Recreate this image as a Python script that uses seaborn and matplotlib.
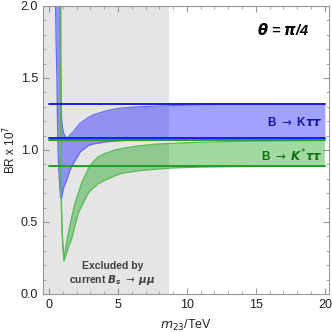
import numpy as np
import pandas as pd
import matplotlib
matplotlib.use("Agg")
import matplotlib.pyplot as plt
from matplotlib.ticker import MultipleLocator
import seaborn as sns

# ---- data ----
x_blue = [0.45, 0.48, 0.52, 0.58, 0.62, 0.66, 0.72, 0.80, 0.84, 0.86, 0.88, 0.92, 1.0, 1.09,
          1.28, 1.5, 1.8, 2.25, 2.5, 2.85, 3.2, 4.2, 5.1, 6.5, 8.0, 10, 13, 16, 20]
blue_upper = [2.6, 2.6, 2.6, 2.6, 2.6, 2.6, 2.6, 2.6, 2.6, 1.6, 1.35, 1.2, 1.14, 1.11,
              1.08, 1.10, 1.13, 1.185, 1.20, 1.225, 1.243, 1.273, 1.29, 1.30, 1.306, 1.311, 1.315, 1.317, 1.319]
blue_lower = [2.6, 2.0, 1.75, 1.5, 1.2, 1.0, 0.85, 0.72, 0.68, 0.667, 0.665, 0.67, 0.71, 0.745,
              0.79, 0.855, 0.91, 0.985, 1.005, 1.03, 1.042, 1.057, 1.064, 1.07, 1.074, 1.077, 1.079, 1.08, 1.081]

x_green = [0.78, 0.80, 0.82, 0.84, 0.87, 0.90, 0.95, 1.02, 1.09, 1.2, 1.3, 1.4, 1.52, 1.64, 1.88,
           2.13, 2.37, 2.85, 3.09, 3.57, 4.06, 4.78, 5.27, 6.47, 7.68, 8.9, 11, 14, 17, 20]
green_upper = [2.6, 2.1, 1.7, 1.4, 1.0, 0.65, 0.45, 0.33, 0.235, 0.31, 0.37, 0.42, 0.475, 0.53, 0.63,
               0.70, 0.77, 0.87, 0.905, 0.953, 0.975, 1.0, 1.01, 1.028, 1.04, 1.046, 1.054, 1.06, 1.064, 1.066]
green_lower = [2.55, 2.05, 1.65, 1.36, 0.97, 0.62, 0.43, 0.315, 0.23, 0.26, 0.29, 0.32, 0.35, 0.38, 0.47,
               0.56, 0.61, 0.70, 0.725, 0.765, 0.79, 0.82, 0.838, 0.855, 0.866, 0.875, 0.881, 0.885, 0.888, 0.889]

blue_bounds = [1.08, 1.32]
green_bounds = [0.888, 1.068]
excluded_max = 8.72

x_ticks = [0, 5, 10, 15, 20]
y_ticks = [0.0, 0.5, 1.0, 1.5, 2.0]

# ---- style ----
sns.set_theme(style="white")
plt.rcParams["font.family"] = ["Liberation Sans", "DejaVu Sans"]
plt.rcParams["mathtext.fontset"] = "custom"
plt.rcParams["mathtext.rm"] = "DejaVu Sans"
plt.rcParams["mathtext.it"] = "DejaVu Sans:italic:bold"
plt.rcParams["mathtext.bf"] = "DejaVu Sans:bold"
plt.rcParams["mathtext.sf"] = "DejaVu Sans:italic"

BLUE = "#0000ff"
GREEN = "#009900"

fig = plt.figure(figsize=(3.32, 3.32), dpi=100)
ax = fig.add_axes([0.1295, 0.1145, 0.8615, 0.8675])

ax.axvspan(-0.43, excluded_max, color="#e5e5e5", lw=0, zorder=0)

df_b = pd.DataFrame({"x": x_blue, "lo": blue_lower, "hi": blue_upper})
df_g = pd.DataFrame({"x": x_green, "lo": green_lower, "hi": green_upper})

ax.fill_between(df_b["x"], df_b["lo"], df_b["hi"], color=BLUE, alpha=0.37, lw=0, zorder=2)
ax.fill_between(df_g["x"], df_g["lo"], df_g["hi"], color=GREEN, alpha=0.37, lw=0, zorder=2)
for col in ["lo", "hi"]:
    sns.lineplot(data=df_b, x="x", y=col, ax=ax, color="#6b6bf0", lw=0.9, zorder=3)
    sns.lineplot(data=df_g, x="x", y=col, ax=ax, color="#55bb55", lw=0.9, zorder=3)

for v in green_bounds:
    ax.plot([0, 20], [v, v], color="#22a022", lw=1.4, zorder=4)
for v in blue_bounds:
    ax.plot([0, 20], [v, v], color="#1a1af0", lw=1.4, zorder=5)

ax.set_xlim(-0.43, 20.3)
ax.set_ylim(0, 2.0)
ax.set_xticks(x_ticks)
ax.set_yticks(y_ticks)
ax.set_xticklabels([str(t) for t in x_ticks])
ax.set_yticklabels([f"{t:.1f}" for t in y_ticks])
ax.xaxis.set_minor_locator(MultipleLocator(1))
ax.yaxis.set_minor_locator(MultipleLocator(0.1))
ax.tick_params(which="both", direction="in", top=True, right=True, left=True, bottom=True,
               colors="#999999", labelcolor="#222222", labelsize=9)
ax.tick_params(which="major", length=4, width=0.8)
ax.tick_params(which="minor", length=2, width=0.6)
for s in ax.spines.values():
    s.set_color("#999999")
    s.set_linewidth(0.8)

ax.set_xlabel(r"$\mathsf{m}_{23}$/TeV", fontsize=9, color="#222222", labelpad=5)
ax.set_ylabel(r"BR x 10$^{7}$", fontsize=8.5, color="#222222", labelpad=2)

ax.text(17.0, 1.83, r"$\theta$ = $\pi$/4", fontsize=10.5, fontweight="bold", fontstyle="italic",
        ha="center", va="center", color="black", zorder=6)
ax.text(19.8, 1.19, r"B $\mathrm{\rightarrow}$ K$\tau\tau$", fontsize=8.5, fontweight="bold", ha="right", va="center",
        color="#1515a0", zorder=6)
ax.text(19.8, 0.955, r"B $\mathrm{\rightarrow}$ $K^{*}\tau\tau$", fontsize=8.5, fontweight="bold", ha="right", va="center",
        color="#107010", zorder=6)
ax.text(4.6, 0.195, "Excluded by", fontsize=7.5, fontweight="bold", ha="center", va="center",
        color="#404040", zorder=6)
ax.text(4.6, 0.10, r"current $B_s$ $\mathrm{\rightarrow}$ $\mu\mu$", fontsize=7.5, fontweight="bold", ha="center", va="center",
        color="#404040", zorder=6)

fig.savefig("out.png", dpi=100)
